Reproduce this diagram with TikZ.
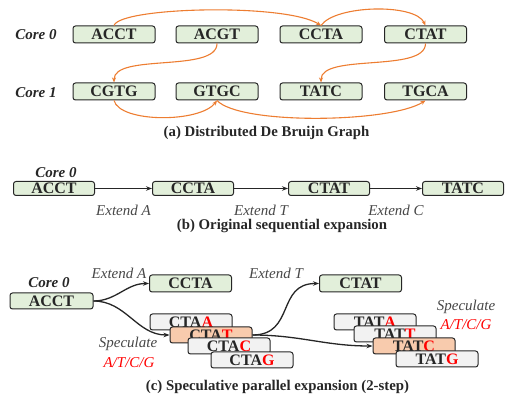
\documentclass[tikz,border=0pt]{standalone}
\usepackage{fontspec}
\setmainfont{Liberation Serif}
\usetikzlibrary{positioning,arrows.meta}
\definecolor{kgreen}{HTML}{E2EFDA}
\definecolor{kgray}{HTML}{F2F2F2}
\definecolor{kpeach}{HTML}{F8CBAD}
\definecolor{korange}{HTML}{ED7D31}
\definecolor{kred}{HTML}{FF0000}
\definecolor{kdark}{HTML}{262626}

\begin{document}
\begin{tikzpicture}[x=1pt, y=1pt,
  kmer/.style={draw=kdark, line width=1pt, rounded corners=2.5pt, fill=kgreen, minimum width=82pt, minimum height=17pt, inner sep=0pt, font=\fontsize{16}{16}\selectfont\bfseries, text=kdark},
  spec/.style={kmer, fill=kgray, minimum height=16pt},
  hit/.style={kmer, fill=kpeach, minimum height=16pt},
  core/.style={font=\fontsize{15}{15}\selectfont\bfseries\itshape, text=kdark},
  ext/.style={font=\fontsize{15}{15}\selectfont\itshape, text=kdark!85},
  figcap/.style={font=\fontsize{14.8}{15}\selectfont\bfseries, text=kdark},
  link/.style={korange, line width=1.1pt, -{Stealth[length=5pt,width=4pt]}},
  flow/.style={kdark, line width=1.3pt, -{Stealth[length=6pt,width=4.5pt]}},
]
\useasboundingbox (0,0) rectangle (510,403);

% (a) distributed graph
\node[core] (a-core0) at (36,368) {Core 0};
\node[core] (a-core1) at (36,310) {Core 1};
\foreach \name/\x in {ACCT/114, ACGT/217, CCTA/321, CTAT/425.5}
  \node[kmer] (a0-\name) at (\x,368.5) {\name};
\foreach \name/\x in {CGTG/114, GTGC/217, TATC/321, TGCA/425.5}
  \node[kmer] (a1-\name) at (\x,311.5) {\name};
\draw[link] (a0-ACCT.north) .. controls (120,396) and (285,400) .. (a0-CCTA.north);
\draw[link] (a0-CCTA.north) .. controls (335,398) and (415,400) .. (a0-CTAT.north);
\draw[link] (a0-ACGT.south) .. controls (217,330) and (114,350) .. (a1-CGTG.north);
\draw[link] (a0-CTAT.south) .. controls (425.5,330) and (321,350) .. (a1-TATC.north);
\draw[link] (a1-CGTG.south) .. controls (120,280) and (200,280) .. (a1-GTGC.south);
\draw[link] (a1-GTGC.south) .. controls (240,278) and (390,280) .. (a1-TGCA.south);
\node[figcap] (a-cap) at (266.5,270) {(a) Distributed De Bruijn Graph};

% (b) sequential
\node[core] (b-core0) at (56,230) {Core 0};
\foreach \name/\x in {ACCT/54, CCTA/193, CTAT/329, TATC/463}
  \node[kmer, minimum width=81pt, minimum height=14pt] (b-\name) at (\x,214.5) {\name};
\draw[flow, line width=1.1pt] (b-ACCT) -- (b-CCTA) node[ext, midway, below=13pt] (b-extA) {Extend A};
\draw[flow, line width=1.1pt] (b-CCTA) -- (b-CTAT) node[ext, midway, below=13pt] (b-extT) {Extend T};
\draw[flow, line width=1.1pt] (b-CTAT) -- (b-TATC) node[ext, midway, below=13pt] (b-extC) {Extend C};
\node[figcap] (b-cap) at (282,177) {(b) Original sequential expansion};

% (c) speculative
\node[core] (c-core0) at (49,120) {Core 0};
\node[kmer, minimum width=83pt, minimum height=16pt] (c-ACCT) at (51.5,102) {ACCT};
\node[kmer] (c-CCTA) at (190.5,119.5) {CCTA};
\node[kmer] (c-CTAT) at (360.5,119.5) {CTAT};
\foreach \b/\x/\y/\s in {A/191/81/spec, T/211/68/hit, C/229/57/spec, G/252/43/spec}
  \node[\s] (s1-\b) at (\x,\y) {CTA\textcolor{kred}{\b}};
\foreach \b/\x/\y/\s in {A/375/81/spec, T/395/69/spec, C/414/57/hit, G/437/44/spec}
  \node[\s] (s2-\b) at (\x,\y) {TAT\textcolor{kred}{\b}};
\node[ext] (c-extA) at (119,130) {Extend A};
\node[ext] (c-extT) at (276,130) {Extend T};
\node[ext] (c-spec1) at (128,59) {Speculate};
\node[ext, text=kred] (c-abc1) at (129,40) {A/T/C/G};
\node[ext] (c-spec2) at (466,96) {Speculate};
\node[ext, text=kred] (c-abc2) at (466,78) {A/T/C/G};
\draw[flow] (c-ACCT.east) to[out=0,in=180] (c-CCTA.west);
\draw[flow] (c-ACCT.east) to[out=0,in=180] (s1-T.west);
\draw[flow] (s1-T.east) to[out=0,in=180,looseness=1.3] (c-CTAT.west);
\draw[flow] (s1-T.east) to[out=0,in=180] (s2-C.west);
\node[figcap] (c-cap) at (277.5,16) {(c) Speculative parallel expansion (2-step)};
\end{tikzpicture}
\end{document}
